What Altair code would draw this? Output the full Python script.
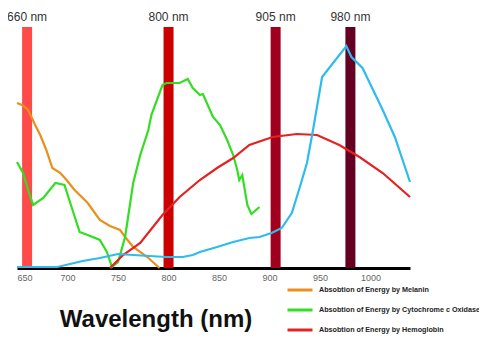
import altair as alt
import pandas as pd

# wavelengths (nm) and relative absorption (arbitrary units)
mel_nm = [650, 655, 661, 668, 673, 679, 685, 693, 699, 707, 720, 732, 742, 752, 757, 765, 779, 791]
mel_v = [165, 163, 158, 143, 133, 118, 100, 95, 88, 78, 65, 48, 42, 38, 31, 21, 11, 0]

cyt_nm = [650, 656, 661, 666, 676, 688, 697, 704, 712, 720, 732, 739, 744, 750, 757, 765, 772, 780,
          783, 794, 798, 811, 819, 824, 831, 834, 844, 851, 858, 864, 868, 870, 873, 878, 882, 890]
cyt_v = [106, 95, 78, 63, 70, 85, 83, 61, 36, 33, 28, 16, 1, 6, 31, 85, 113, 138,
         153, 183, 185, 185, 189, 180, 173, 174, 151, 143, 128, 113, 98, 88, 93, 63, 54, 61]

hem_nm = [742, 755, 772, 794, 811, 831, 848, 864, 880, 903, 927, 947, 969, 989, 1012, 1039]
hem_v = [0, 13, 25, 53, 71, 88, 100, 110, 123, 131, 134, 133, 123, 111, 95, 71]

wat_nm = [650, 690, 715, 732, 750, 765, 781, 798, 814, 824, 831, 848, 864, 880, 890, 902, 912,
          922, 930, 937, 943, 952, 976, 981, 992, 1012, 1024, 1039]
wat_v = [1, 1, 7, 10, 14, 13, 12, 11, 11, 13, 16, 21, 26, 30, 31, 35, 40,
         55, 81, 105, 138, 191, 222, 211, 200, 158, 131, 86]

series_names = [
    "Absobtion of Energy by Melanin",
    "Absobtion of Energy by Cytochrome c Oxidase",
    "Absobtion of Energy by Hemoglobin",
    "Absobtion of Energy by Water",
]
series_colors = ["#E8901C", "#33DD22", "#E52222", "#2EBBEE"]

band_nm = [660, 800, 906, 980]
band_labels = ["660 nm", "800 nm", "905 nm", "980 nm"]
band_colors = ["#FF4A4A", "#CC0000", "#A0001E", "#650022"]

tick_values = [650, 700, 750, 800, 850, 900, 950, 1000]

Y_TOP = 241
FONT = "Liberation Sans"

rows = []
for name, xs, ys in zip(series_names, [mel_nm, cyt_nm, hem_nm, wat_nm], [mel_v, cyt_v, hem_v, wat_v]):
    for i, (a, b) in enumerate(zip(xs, ys)):
        rows.append({"series": name, "nm": a, "v": b, "order": i})
lines_df = pd.DataFrame(rows)

bands_df = pd.DataFrame({
    "nm": band_nm, "label": band_labels, "color": band_colors,
    "lo": [0] * 4, "hi": [Y_TOP] * 4,
})

xscale = alt.Scale(domain=[650, 1039], nice=False, zero=False)
yscale = alt.Scale(domain=[0, Y_TOP], nice=False)

bars = alt.Chart(bands_df).mark_rule(strokeWidth=10, strokeCap="butt").encode(
    x=alt.X("nm:Q", scale=xscale,
            axis=alt.Axis(values=tick_values, format="d", title=None, ticks=False, grid=False,
                          domainColor="#000000", domainWidth=3, labelColor="#666666",
                          labelFontSize=9, labelFont=FONT, labelPadding=5)),
    y=alt.Y("lo:Q", scale=yscale, axis=None),
    y2="hi:Q",
    color=alt.Color("color:N", scale=None),
)

band_text = alt.Chart(bands_df).mark_text(
    fontSize=12, font=FONT, color="#333333", baseline="middle"
).encode(
    x=alt.X("nm:Q", scale=xscale),
    y=alt.value(-10),
    text="label:N",
)

lines = alt.Chart(lines_df).mark_line(strokeWidth=2.2).encode(
    x=alt.X("nm:Q", scale=xscale),
    y=alt.Y("v:Q", scale=yscale, axis=None),
    order="order:Q",
    color=alt.Color(
        "series:N",
        scale=alt.Scale(domain=series_names, range=series_colors),
        legend=alt.Legend(
            values=series_names[:3], title=None, orient="none",
            legendX=269, legendY=249, symbolType="stroke", symbolSize=625,
            symbolStrokeWidth=3, labelFont=FONT, labelFontSize=7.2,
            labelFontWeight="bold", labelColor="#222222", rowPadding=-7.5,
            labelLimit=300, labelOffset=5,
        ),
    ),
)

title_df = pd.DataFrame({"t": ["Wavelength (nm)"]})
title = alt.Chart(title_df).mark_text(
    fontSize=24, fontWeight="bold", font=FONT, color="#111111",
    baseline="alphabetic", align="center",
).encode(x=alt.value(139), y=alt.value(300), text="t:N")

chart = alt.layer(bars, lines, band_text, title).properties(
    width=393, height=Y_TOP,
    autosize=alt.AutoSizeParams(type="none"),
    padding={"left": 9, "top": 19, "right": 69, "bottom": 69},
).configure_view(stroke=None)

chart.save("out.html", embed_options={"renderer": "svg", "actions": False})
